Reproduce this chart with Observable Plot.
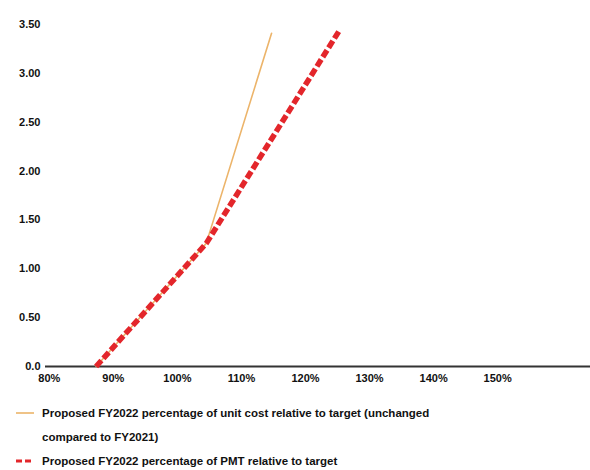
<!DOCTYPE html>
<html>
<head>
<meta charset="utf-8">
<script src="https://cdn.jsdelivr.net/npm/d3@7"></script>
<script src="https://cdn.jsdelivr.net/npm/@observablehq/plot@0.6"></script>
<style>
  body { margin: 0; background: #fff; font-family: "Liberation Sans", Arial, sans-serif; }
  #chart { width: 590px; }
  .legend { margin-top: 5px; font-weight: bold; font-size: 11.5px; color: #111; }
  .item { display: flex; align-items: flex-start; margin-left: 16px; line-height: 24px; }
  .item svg { flex: none; margin-top: 7px; margin-right: 8px; }
  .item span { max-width: 440px; }
</style>
</head>
<body>
<div id="chart"></div>
<script>
const seriesNames = [
  "Proposed FY2022 percentage of unit cost relative to target (unchanged compared to FY2021)",
  "Proposed FY2022 percentage of PMT relative to target"
];
const unitCostX = [87.3, 104.5, 114.7];
const unitCostY = [0, 1.26, 3.41];
const pmtX = [87.3, 104.5, 125.3];
const pmtY = [0, 1.26, 3.44];
const xTicks = [80, 90, 100, 110, 120, 130, 140, 150];
const yTicks = [0, 0.5, 1, 1.5, 2, 2.5, 3, 3.5];
const colors = ["#ecb46a", "#e3262b"];

const unitCost = unitCostX.map((x, i) => ({x, y: unitCostY[i]}));
const pmt = pmtX.map((x, i) => ({x, y: pmtY[i]}));

const plot = Plot.plot({
  width: 590,
  height: 396,
  marginLeft: 45,
  marginRight: 0,
  marginTop: 24,
  marginBottom: 30,
  style: {fontFamily: "Liberation Sans, Arial, sans-serif", fontSize: "11px", fontWeight: "bold", color: "#111"},
  x: {domain: [79.4, 164.5], ticks: xTicks, tickFormat: d => d + "%", tickSize: 0, tickPadding: 8, label: null},
  y: {domain: [0, 3.5], ticks: yTicks, tickFormat: d => d === 0 ? "0.0" : d.toFixed(2), tickSize: 0, tickPadding: 5, label: null},
  marks: [
    Plot.ruleY([0], {stroke: "#333", strokeWidth: 2}),
    Plot.line(unitCost, {x: "x", y: "y", stroke: colors[0], strokeWidth: 1.6}),
    Plot.line(pmt, {x: "x", y: "y", stroke: colors[1], strokeWidth: 5.5, strokeDasharray: "8,3", strokeLinecap: "butt"})
  ]
});
document.getElementById("chart").appendChild(plot);

const legend = document.createElement("div");
legend.className = "legend";
seriesNames.forEach((name, i) => {
  const item = document.createElement("div");
  item.className = "item";
  const dash = i === 1 ? 'stroke-dasharray="6,3" stroke-width="3"' : 'stroke-width="1.6"';
  item.innerHTML = `<svg width="18" height="10"><line x1="0" x2="18" y1="5" y2="5" stroke="${colors[i]}" ${dash}/></svg><span>${name}</span>`;
  legend.appendChild(item);
});
document.getElementById("chart").appendChild(legend);
</script>
</body>
</html>
